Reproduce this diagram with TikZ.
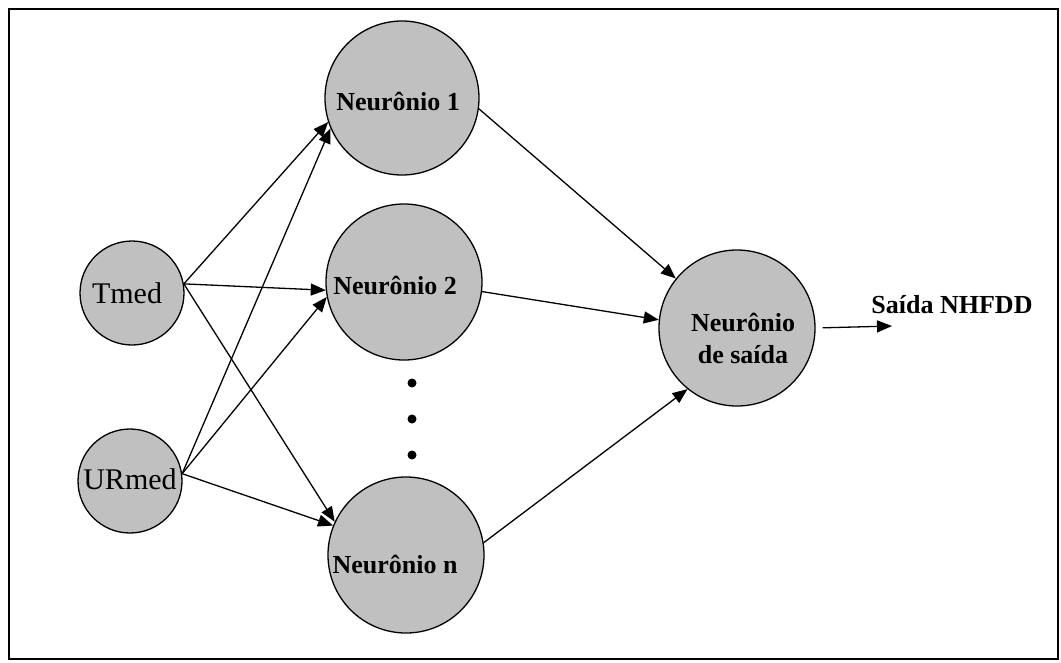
\documentclass[tikz,border=0pt]{standalone}
\usepackage{fontspec}
\setmainfont{Liberation Serif}
\usetikzlibrary{arrows.meta}
\definecolor{neurongray}{RGB}{192,192,192}
\begin{document}
\begin{tikzpicture}[x=1pt,y=-1pt,
	neuron/.style={circle,draw,line width=1.3pt,fill=neurongray,inner sep=0pt},
	edge/.style={line width=1.3pt,-{Triangle[length=15pt,width=12pt]}},
	lbl/.style={font=\fontsize{26}{32}\selectfont\bfseries,align=center},
	inp/.style={font=\fontsize{30}{36}\selectfont}
	]
	\useasboundingbox (0,0) rectangle (1061,662);
	\draw[line width=2pt] (9,9) rectangle (1058,659);
	
	% entradas
	\node[neuron,minimum size=104pt] (tmed) at (132,293) {};
	\node[inp] at (127,293) {Tmed};
	\node[neuron,minimum size=104pt] (urmed) at (130,481) {};
	\node[inp] at (130,479) {URmed};
	
	% camada oculta
	\node[neuron,minimum size=154pt] (n1) at (402,98) {};
	\node[lbl] at (398,101) {Neurônio 1};
	\node[neuron,minimum size=156pt] (n2) at (404,282) {};
	\node[lbl] at (395,285) {Neurônio 2};
	\node[neuron,minimum size=156pt] (nn) at (406,555) {};
	\node[lbl] at (395,564) {Neurônio n};
	\foreach \y in {383,419,455} \fill (412,\y) circle (4.5pt);
	
	% saida
	\node[neuron,minimum size=156pt] (out) at (737,328) {};
	\node[lbl] at (743,338) {Neurônio\\de saída};
	\coordinate (outend) at (892,326);
	\node[lbl] (saida) at (952,305) {Saída NHFDD};
	
	\draw[edge] (tmed.10) -- (n1.198);
	\draw[edge] (tmed.10) -- (n2.186);
	\draw[edge] (tmed.10) -- (nn.155);
	\draw[edge] (urmed.8) -- (n1.203);
	\draw[edge] (urmed.8) -- (n2.191);
	\draw[edge] (urmed.8) -- (nn.158);
	\draw[edge] (n1.352) -- (out.141);
	\draw[edge] (n2.353) -- (out.174);
	\draw[edge] (nn.9) -- (out.231);
	\draw[edge,shorten <=7pt] (out.east) -- (outend);
\end{tikzpicture}
\end{document}
